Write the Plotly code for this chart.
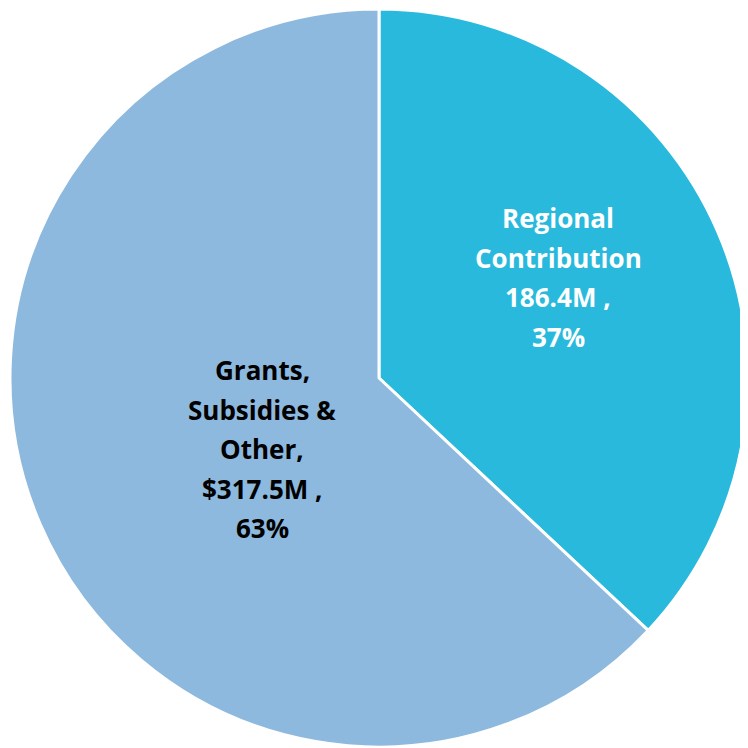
import plotly.graph_objects as go

categories = ["Regional Contribution", "Grants, Subsidies & Other"]
values = [186.4, 317.5]
colors = ["#29B9DD", "#8DB9DE"]
label_lines = [
    ["Regional", "Contribution", "186.4M ,", "37%"],
    ["Grants,", "Subsidies &", "Other,", "$317.5M ,", "63%"],
]
label_colors = ["white", "black"]

W = H = 740
OFF = 8  # page body margin
# label block centres (first line) in page pixels
label_px = [(558, 218), (262, 370)]
label_anchor = [((x - OFF) / W, 1 - (y - OFF) / H) for x, y in label_px]
line_step = 39.5

fig = go.Figure(
    go.Pie(
        labels=categories,
        values=values,
        sort=False,
        direction="clockwise",
        rotation=0,
        marker=dict(colors=colors, line=dict(color="white", width=3)),
        textinfo="none",
        hoverinfo="label+value+percent",
        domain=dict(x=[2 / W, 1], y=[0, 1]),
        showlegend=False,
    )
)

annotations = []
for lines, col, (ax, ay) in zip(label_lines, label_colors, label_anchor):
    for i, line in enumerate(lines):
        annotations.append(
            dict(
                text=line,
                x=ax,
                y=ay,
                xref="paper",
                yref="paper",
                xanchor="center",
                yanchor="middle",
                yshift=-i * line_step,
                showarrow=False,
                font=dict(family="Open Sans", size=26, color=col, weight="bold"),
            )
        )

fig.update_layout(
    width=W,
    height=H,
    margin=dict(l=0, r=0, t=0, b=0),
    paper_bgcolor="white",
    plot_bgcolor="white",
    annotations=annotations,
)

fig.write_html("out.html")
